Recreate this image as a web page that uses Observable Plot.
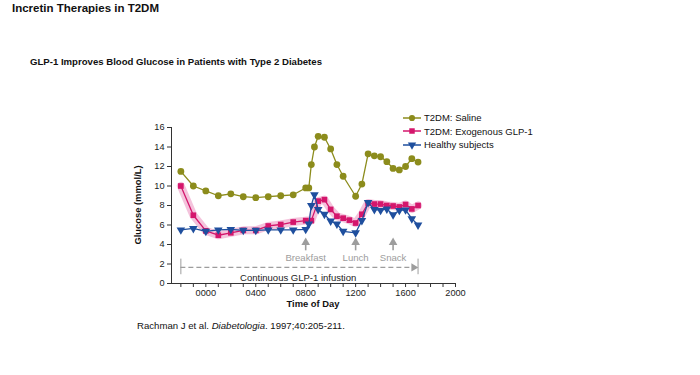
<!DOCTYPE html>
<html>
<head>
<meta charset="utf-8">
<script src="https://cdn.jsdelivr.net/npm/d3@7"></script>
<script src="https://cdn.jsdelivr.net/npm/@observablehq/plot@0.6"></script>
<style>
  html, body { margin: 0; padding: 0; background: #fff; }
  #wrap { position: relative; width: 700px; height: 375px; overflow: hidden; font-family: "Liberation Sans", Arial, sans-serif; color: #111; }
  #wrap svg.chart { position: absolute; left: 0; top: 0; }
  .abs { position: absolute; white-space: nowrap; }
  #title { left: 12px; top: 2px; font-size: 11.5px; font-weight: bold; }
  #subtitle { left: 30px; top: 56px; font-size: 9.6px; font-weight: bold; }
  #caption { left: 137px; top: 320px; font-size: 9.6px; }
  #xlabel { left: 313px; top: 298px; transform: translateX(-50%); font-size: 9.4px; font-weight: bold; }
  #ylabel { left: 137px; top: 205px; transform: translate(-50%, -50%) rotate(-90deg); font-size: 9.4px; font-weight: bold; }
  #legend { left: 403px; top: 111px; font-size: 9.5px; }
  #legend .item { display: flex; align-items: center; height: 13.5px; }
  #legend svg { margin-right: 3px; }
</style>
</head>
<body>
<div id="wrap">
  <div id="title" class="abs">Incretin Therapies in T2DM</div>
  <div id="subtitle" class="abs">GLP-1 Improves Blood Glucose in Patients with Type 2 Diabetes</div>
  <div id="caption" class="abs">Rachman J et al. <i>Diabetologia</i>. 1997;40:205-211.</div>
  <div id="xlabel" class="abs">Time of Day</div>
  <div id="ylabel" class="abs">Glucose (mmol/L)</div>
  <div id="legend" class="abs"></div>
</div>
<script>
// ---- data (hours relative to midnight; glucose in mmol/L) ----
const salineHours   = [-2,-1,0,1,2,3,4,5,6,7,8,8.25,8.45,8.7,9,9.5,10,10.5,11,12,12.5,13,13.5,14,14.5,15,15.5,16,16.5,17];
const salineGlucose = [11.5,10.0,9.5,9.0,9.2,8.9,8.8,8.9,9.0,9.1,9.8,9.8,12.2,14.0,15.1,15.0,13.8,12.2,11.0,8.95,10.2,13.3,13.1,13.0,12.5,11.8,11.65,12.0,12.8,12.45];

const glp1Hours   = [-2,-1,0,1,2,3,4,5,6,7,8,8.45,9,9.5,10,10.5,11,11.5,12,12.5,13,13.5,14,14.5,15,15.5,16,16.5,17];
const glp1Glucose = [10.0,7.0,5.4,4.95,5.2,5.45,5.45,5.9,6.05,6.3,6.45,6.45,8.45,8.6,7.6,6.9,6.7,6.5,6.2,7.1,8.25,8.15,8.15,8.0,7.95,7.85,8.1,7.65,8.0];

const healthyHours   = [-2,-1,0,1,2,3,4,5,6,7,8,8.25,8.45,8.7,9,9.5,10,10.5,11,12,12.5,13,13.5,14,14.5,15,15.5,16,16.5,17];
const healthyGlucose = [5.5,5.65,5.35,5.5,5.55,5.45,5.45,5.5,5.5,5.5,5.55,6.1,8.0,9.1,7.6,7.1,6.4,6.1,5.35,5.2,6.45,8.3,7.6,7.5,7.65,7.05,7.5,7.55,6.65,6.0];

const seriesNames = ["T2DM: Saline", "T2DM: Exogenous GLP-1", "Healthy subjects"];
const seriesColors = ["#8c8c1c", "#d4166c", "#1f4f9e"];

const yTicks = [0,2,4,6,8,10,12,14,16];
const xTicks = d3.range(-2, 21, 1);
const xLabelEvery = 4;

const meals = [
  {label: "Breakfast", hour: 8},
  {label: "Lunch", hour: 12},
  {label: "Snack", hour: 15}
];
const infusion = {start: -2, end: 17, label: "Continuous GLP-1 infustion", labelHour: 7.4};

// ---- build rows ----
const rows = (hs, vs) => hs.map((h, i) => ({h, v: vs[i]}));
const saline = rows(salineHours, salineGlucose);
const glp1 = rows(glp1Hours, glp1Glucose);
const healthy = rows(healthyHours, healthyGlucose);

const grey = "#9d9d9d";
const fmt = d => (d % xLabelEvery === 0 && d >= 0) ? String(d * 100).padStart(4, "0") : "";

const chart = Plot.plot({
  width: 700, height: 375,
  marginLeft: 171, marginRight: 245, marginTop: 127, marginBottom: 92,
  x: {domain: [-2.75, 20]},
  y: {domain: [0, 16]},
  style: {fontFamily: "Liberation Sans, Arial, sans-serif", fontSize: "9.2px", color: "#222", background: "transparent"},
  marks: [
    Plot.axisY({ticks: yTicks, tickSize: 4, tickPadding: 3, label: null, stroke: "#333"}),
    Plot.axisX({ticks: xTicks, tickSize: 4, tickPadding: 2, tickFormat: fmt, label: null, stroke: "#333"}),
    Plot.ruleX([-2.75], {y1: 0, y2: 16, stroke: "#333"}),
    Plot.ruleY([0], {x1: -2.75, x2: 20, stroke: "#333"}),

    // annotations: meals
    Plot.ruleX(meals, {x: "hour", y1: 3.35, y2: 4.1, stroke: grey, strokeWidth: 1.6}),
    Plot.dot(meals, {x: "hour", y: () => 4.2, symbol: "triangle", r: 3.2, fill: grey, stroke: "none"}),
    Plot.text(meals, {x: "hour", y: () => 2.6, text: "label", fill: grey, fontSize: 9.6}),

    // infusion bar
    Plot.ruleY([infusion], {x1: "start", x2: d => d.end - 0.35, y: () => 1.65, stroke: grey, strokeDasharray: "5,3", strokeWidth: 1.2}),
    Plot.dot([infusion], {x: d => d.end - 0.35, y: () => 1.65, symbol: "triangle", rotate: 90, r: 3, fill: grey, stroke: "none"}),
    Plot.ruleX([infusion.start, infusion.end], {y1: 0.9, y2: 2.5, stroke: grey, strokeWidth: 1}),
    Plot.text([infusion], {x: "labelHour", y: () => 0.6, text: "label", fill: "#222", fontSize: 9.5}),

    // series
    Plot.line(saline, {x: "h", y: "v", stroke: seriesColors[0], strokeWidth: 1.3}),
    Plot.dot(saline, {x: "h", y: "v", fill: seriesColors[0], r: 3.4, stroke: "none"}),

    Plot.line(glp1, {x: "h", y: "v", stroke: "#e0529a", strokeOpacity: 0.35, strokeWidth: 8}),
    Plot.line(glp1, {x: "h", y: "v", stroke: seriesColors[1], strokeWidth: 1.3}),
    Plot.dot(glp1, {x: "h", y: "v", symbol: "square", fill: seriesColors[1], r: 3.2, stroke: "none"}),

    Plot.line(healthy, {x: "h", y: "v", stroke: seriesColors[2], strokeWidth: 1.3}),
    Plot.dot(healthy, {x: "h", y: "v", symbol: "triangle", rotate: 180, fill: seriesColors[2], r: 3.2, stroke: "none"})
  ]
});
chart.classList.add("chart");
document.getElementById("wrap").insertBefore(chart, document.getElementById("title"));

// legend
const symbols = [d3.symbolCircle, d3.symbolSquare, d3.symbolTriangle];
const legend = d3.select("#legend");
seriesNames.forEach((name, i) => {
  const item = legend.append("div").attr("class", "item");
  const s = item.append("svg").attr("width", 18).attr("height", 10);
  s.append("line").attr("x1", 0).attr("x2", 18).attr("y1", 5).attr("y2", 5)
    .attr("stroke", seriesColors[i]).attr("stroke-width", 1.5);
  s.append("path").attr("d", d3.symbol(symbols[i], 30)())
    .attr("transform", `translate(9,5) rotate(${i === 2 ? 180 : 0})`)
    .attr("fill", seriesColors[i]);
  item.append("span").text(name);
});
</script>
</body>
</html>
